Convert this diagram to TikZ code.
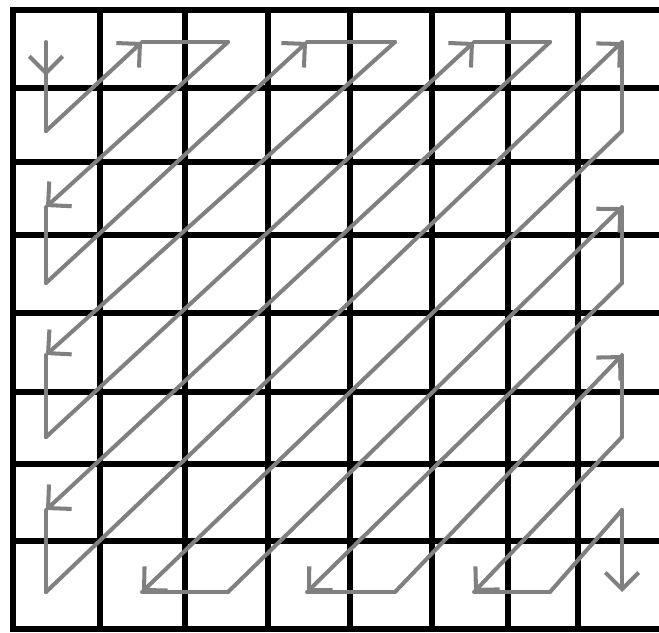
\documentclass[tikz,border=0pt]{standalone}
\usepackage{xcolor}
\usepackage{tikz}
\usetikzlibrary{arrows.meta,decorations.markings}

\definecolor{scangray}{RGB}{128,128,128}

\begin{document}
\begin{tikzpicture}[
  x=0.02cm, y=-0.02cm,
  gridline/.style={line width=3.2pt, black, line cap=rect},
  scan/.style={line width=2.3pt, scangray, line cap=round, line join=round},
  scanarr/.style={scan, -{Straight Barb[length=9.5pt, width=19pt, line width=2.3pt]}},
  scanmid/.style={scan, postaction={decorate}, decoration={markings,
    mark=at position 0.38 with {\arrow{Straight Barb[length=9.5pt, width=19pt, line width=2.3pt]}}}}
]
\useasboundingbox (0,0) rectangle (659,632);
% grid
\foreach \x in {13,100,185,268,350,432,508,578}
  \draw[gridline] (\x,10) -- (\x,629);
\foreach \y in {10,88,162,235,313,392,464,541,629}
  \draw[gridline] (13,\y) -- (659,\y);
% scan points
\foreach \cx [count=\i from 0] in {46,142,228,307,395,474,550,622}
  \foreach \ry [count=\j from 0] in {42,131,207,283,355,437,510,592}
    \coordinate (p\i\j) at (\cx,\ry);
% zigzag
\draw[scanmid] (p00) -- (p01);
\foreach \a/\b/\s in {01/10/scanarr, 10/20/scan, 20/02/scanarr, 02/03/scan,
    03/30/scanarr, 30/40/scan, 40/04/scanarr, 04/05/scan,
    05/50/scanarr, 50/60/scan, 60/06/scanarr, 06/07/scan,
    07/70/scanarr, 70/71/scan, 71/17/scanarr, 17/27/scan,
    27/72/scanarr, 72/73/scan, 73/37/scanarr, 37/47/scan,
    47/74/scanarr, 74/75/scan, 75/57/scanarr, 57/67/scan,
    67/76/scan, 76/77/scanarr}
  \draw[\s] (p\a) -- (p\b);
\end{tikzpicture}
\end{document}
